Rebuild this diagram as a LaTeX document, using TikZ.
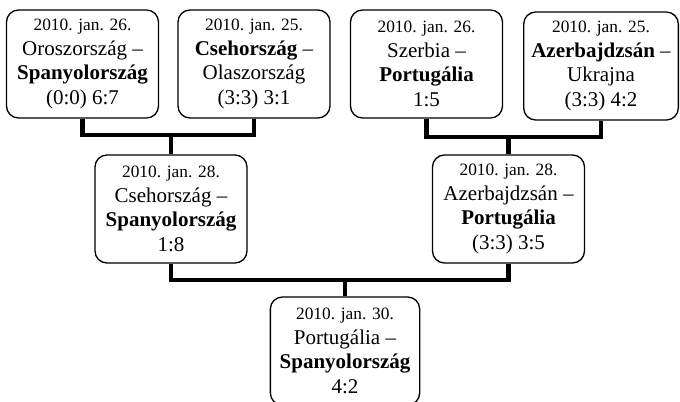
\documentclass[tikz,border=0pt]{standalone}
\usepackage{fontspec}
\setmainfont{Liberation Serif}
\newcommand{\datum}[1]{{\fontsize{13}{18.4}\selectfont #1}}

\begin{document}
\begin{tikzpicture}[x=0.75pt,y=-0.75pt,
  match/.style={draw,line width=1pt,rounded corners=9pt,align=center,
    minimum width=114pt,minimum height=81pt,inner sep=0pt,
    font=\fontsize{15.75}{18.4}\selectfont},
  bracket/.style={line width=3.6pt}]
\useasboundingbox (0,0) rectangle (680,401);
\node[match] (q1) at (82.5,64) {\datum{2010. jan. 26.}\\Oroszország --\\\textbf{Spanyolország}\\(0:0) 6:7};
\node[match] (q2) at (254,64) {\datum{2010. jan. 25.}\\\textbf{Csehország} --\\Olaszország\\(3:3) 3:1};
\node[match] (q3) at (426.5,64) {\datum{2010. jan. 26.}\\Szerbia --\\\textbf{Portugália}\\1:5};
\node[match,minimum width=116pt] (q4) at (601,66) {\datum{2010. jan. 25.}\\\textbf{Azerbajdzsán} --\\Ukrajna\\(3:3) 4:2};
\node[match] (s1) at (171,209) {\datum{2010. jan. 28.}\\Csehország --\\\textbf{Spanyolország}\\1:8};
\node[match] (s2) at (508.5,209) {\datum{2010. jan. 28.}\\Azerbajdzsán --\\\textbf{Portugália}\\(3:3) 3:5};
\node[match,minimum width=112pt] (fin) at (345,351) {\datum{2010. jan. 30.}\\Portugália --\\\textbf{Spanyolország}\\4:2};
\coordinate (j1) at (171,135);
\coordinate (j2) at (508.5,137);
\coordinate (j3) at (345,280);
\draw[bracket] (q1.south) |- (j1) -| (q2.south);
\draw[bracket] (q3.south) |- (j2) -| (q4.south);
\draw[bracket] (s1.south) |- (j3) -| (s2.south);
\path[bracket] (j1) edge (s1.north) (j2) edge (s2.north) (j3) edge (fin.north);
\end{tikzpicture}
\end{document}
